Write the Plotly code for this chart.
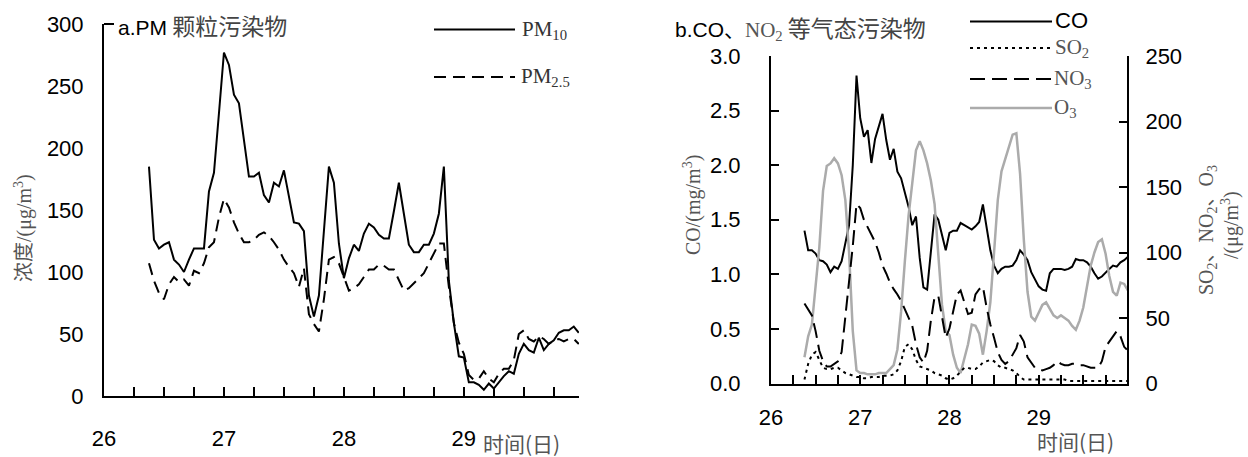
import numpy as np
import plotly.graph_objects as go

W, H = 1248, 457
def px(x): return x / W
def py(y): return 1 - y / H

# ---- data (hourly, starting 26 day 09:00) ----
start_day = 26.375
pm10 = [185, 126, 119, 122, 124, 110, 106, 100, 110, 119, 119, 119, 165, 180, 228, 277, 267, 243, 236, 206,
        177, 177, 180, 162, 156, 172, 169, 182, 161, 140, 139, 133, 81, 64, 81, 131, 185, 172, 123, 95,
        111, 122, 117, 131, 139, 136, 130, 127, 127, 149, 172, 147, 122, 116, 116, 122, 122, 131, 147, 185,
        93, 59, 32, 31, 11, 11, 9, 5, 10, 6, 11, 16, 20, 18, 34, 42, 37, 35, 47, 37,
        42, 45, 51, 53, 53, 56, 51]
pm25 = [107, 93, 83, 78, 90, 96, 92, 94, 89, 101, 99, 107, 120, 124, 144, 159, 152, 140, 131, 124,
        124, 126, 130, 132, 129, 124, 118, 110, 104, 99, 88, 103, 66, 58, 52, 78, 110, 112, 107, 96,
        85, 87, 90, 96, 102, 102, 106, 105, 102, 102, 93, 85, 87, 91, 95, 99, 107, 115, 123, 123,
        88, 59, 43, 34, 17, 13, 14, 20, 14, 11, 18, 22, 22, 29, 50, 53, 46, 44, 48, 46,
        42, 45, 46, 44, 46, 46, 42]
co = [1.40, 1.22, 1.22, 1.19, 1.13, 1.12, 1.09, 1.02, 1.07, 1.05, 1.12, 1.30, 1.45, 2.00, 2.82, 2.43,
      2.26, 2.32, 2.02, 2.24, 2.35, 2.47, 2.23, 2.05, 2.15, 1.94, 1.88, 1.74, 1.62, 1.45, 1.53, 1.15,
      0.88, 0.86, 1.20, 1.55, 1.50, 1.37, 1.22, 1.38, 1.40, 1.40, 1.47, 1.45, 1.43, 1.41, 1.44, 1.48,
      1.64, 1.44, 1.22, 1.08, 1.01, 1.05, 1.07, 1.07, 1.08, 1.13, 1.22, 1.18, 1.13, 1.02, 0.95, 0.89,
      0.86, 0.85, 1.01, 1.05, 1.05, 1.05, 1.04, 1.05, 1.07, 1.14, 1.13, 1.13, 1.11, 1.07, 1.01, 0.96,
      0.98, 1.02, 1.05, 1.08, 1.07, 1.11, 1.13, 1.16]
so2 = [3, 15, 22, 24, 18, 12, 11, 11, 12, 12, 10, 8, 7, 6, 5, 5, 4, 4, 5, 5,
       5, 6, 6, 6, 7, 10, 17, 28, 30, 26, 18, 13, 12, 11, 10, 8, 7, 6, 4, 3,
       4, 6, 9, 12, 12, 11, 11, 13, 16, 17, 18, 17, 14, 12, 12, 11, 10, 8, 5, 3,
       3, 3, 3, 3, 3, 3, 3, 3, 3, 3, 3, 2, 2, 2, 2, 2, 2, 2, 2, 2,
       2, 2, 2, 2, 2, 2, 2, 2]
no2 = [61, 56, 52, 40, 25, 17, 13, 13, 15, 17, 24, 50, 80, 105, 137, 134, 125, 119, 114, 108,
       100, 90, 84, 77, 72, 68, 63, 57, 51, 44, 30, 20, 16, 25, 48, 66, 67, 52, 35, 42,
       55, 68, 71, 62, 53, 54, 68, 72, 74, 58, 45, 35, 24, 18, 15, 17, 22, 27, 37, 32,
       20, 16, 12, 11, 10, 11, 12, 14, 17, 15, 14, 14, 15, 15, 14, 14, 13, 12, 12, 12,
       17, 28, 32, 36, 40, 36, 28, 25]
o3 = [20, 36, 45, 72, 104, 147, 166, 168, 172, 168, 159, 140, 100, 40, 10, 8, 8, 7, 7, 7,
      8, 8, 8, 11, 14, 26, 55, 93, 128, 153, 178, 185, 178, 168, 155, 137, 95, 60, 40, 37,
      22, 12, 8, 18, 30, 45, 44, 38, 22, 40, 62, 100, 140, 162, 172, 180, 190, 191, 160, 110,
      70, 51, 48, 54, 60, 62, 57, 52, 50, 52, 50, 48, 44, 41, 48, 58, 74, 90, 100, 108,
      110, 99, 82, 70, 67, 77, 76, 71]

day_ticks = [26, 27, 28, 29]
pm_ticks = [0, 50, 100, 150, 200, 250, 300]
co_ticks = [0, 0.5, 1.0, 1.5, 2.0, 2.5, 3.0]
gas_ticks = [0, 50, 100, 150, 200, 250]

t_pm = start_day + np.arange(len(pm10)) / 24
t_gas = start_day + np.arange(len(co)) / 24

SANS = "Liberation Sans, Arial, sans-serif"
SERIF = "Liberation Serif, Times New Roman, serif"
CJK = "Noto Sans CJK SC"
GRAY = "#555555"
O3C = "#ababab"

fig = go.Figure()
fig.add_trace(go.Scatter(x=t_pm, y=pm10, mode="lines", line=dict(color="black", width=2),
                         xaxis="x", yaxis="y", name="PM10"))
fig.add_trace(go.Scatter(x=t_pm, y=pm25, mode="lines", line=dict(color="black", width=2, dash="12px,7px"),
                         xaxis="x", yaxis="y", name="PM2.5"))
fig.add_trace(go.Scatter(x=t_gas, y=o3, mode="lines", line=dict(color=O3C, width=2.5),
                         xaxis="x2", yaxis="y3", name="O3"))
fig.add_trace(go.Scatter(x=t_gas, y=so2, mode="lines", line=dict(color="black", width=2, dash="3px,4px"),
                         xaxis="x2", yaxis="y3", name="SO2"))
fig.add_trace(go.Scatter(x=t_gas, y=no2, mode="lines", line=dict(color="black", width=2, dash="15px,7px"),
                         xaxis="x2", yaxis="y3", name="NO2"))
fig.add_trace(go.Scatter(x=t_gas, y=co, mode="lines", line=dict(color="black", width=2),
                         xaxis="x2", yaxis="y2", name="CO"))

tickfont = dict(family=SANS, size=22, color="black")
xcommon = dict(showline=True, linecolor="black", linewidth=2, ticks="inside", ticklen=9, tickwidth=1.5,
               tickcolor="black", tickmode="array", tickvals=day_ticks, automargin=False,
               minor=dict(dtick=0.25, tick0=26, ticks="inside", ticklen=9, tickwidth=1.5, tickcolor="black"),
               showgrid=False, zeroline=False, tickfont=tickfont)

fig.update_layout(
    width=W, height=H, margin=dict(l=0, r=0, t=0, b=0, autoexpand=False),
    paper_bgcolor="white", plot_bgcolor="white", showlegend=False,
    xaxis=dict(domain=[px(104), px(579)], range=[26, 29.96], anchor="y", ticklabelstandoff=22, **xcommon),
    yaxis=dict(domain=[py(396), py(24)], range=[0, 300], anchor="x", showline=True, linecolor="black",
               linewidth=2, ticks="", tickmode="array", tickvals=pm_ticks, showgrid=False, zeroline=False,
               tickfont=tickfont, ticklabelstandoff=14, automargin=False),
    xaxis2=dict(domain=[px(771), px(1127)], range=[26, 29.99], anchor="y2", ticklabelstandoff=13, **xcommon),
    yaxis2=dict(domain=[py(383.5), py(56)], range=[0, 3], anchor="x2", showline=True, linecolor="black",
                linewidth=2, ticks="inside", ticklen=8, tickwidth=1.5, tickcolor="black",
                tickmode="array", tickvals=co_ticks, tickformat=".1f", showgrid=False, zeroline=False,
                tickfont=tickfont, ticklabelstandoff=24, automargin=False),
    yaxis3=dict(overlaying="y2", side="right", range=[0, 250], anchor="x2", showline=True,
                linecolor="black", linewidth=2, ticks="inside", ticklen=8, tickwidth=1.5, tickcolor="black",
                tickmode="array", tickvals=gas_ticks, showgrid=False, zeroline=False,
                tickfont=tickfont, ticklabelstandoff=12, automargin=False),
)

ann = []
def A(x, y, text, size=20, family=SERIF, color=GRAY, xanchor="left", angle=0):
    ann.append(dict(x=px(x), y=py(y), xref="paper", yref="paper", text=text, showarrow=False,
                    xanchor=xanchor, yanchor="middle", textangle=angle,
                    font=dict(family=family, size=size, color=color)))

A(116, 25, f'<span style="font-family:{SANS};color:#000">a.PM</span>'
           f'<span style="font-family:{CJK};font-size:23px;color:#444"> 颗粒污染物</span>', size=21)
A(673, 27, f'<span style="font-family:{SANS};color:#000">b.CO</span>'
           f'<span style="font-family:{CJK};color:#000">、</span>'
           f'<span style="font-family:{SERIF};color:{GRAY}">NO<sub>2</sub></span>'
           f'<span style="font-family:{CJK};font-size:23px;color:#444"> 等气态污染物</span>', size=21)

# legend labels
A(520, 30, "PM<sub>10</sub>", size=21, color="#333")
A(519, 77, "PM<sub>2.5</sub>", size=21, color="#333")
A(1053, 21, "CO", size=22, family=SANS, color="black")
A(1053, 48, "SO<sub>2</sub>", size=21)
A(1052, 79, "NO<sub>3</sub>", size=21)
A(1052, 108, "O<sub>3</sub>", size=21)

# axis titles
A(22, 228, f'<span style="font-family:{CJK}">浓度</span>/(μg/m<sup>3</sup>)', size=20, xanchor="center", angle=-90)
A(692, 205, "CO/(mg/m<sup>3</sup>)", size=20, xanchor="center", angle=-90)
A(1205, 230, f'SO<sub>2</sub><span style="font-family:{CJK}">、</span>NO<sub>2</sub>'
             f'<span style="font-family:{CJK}">、</span>O<sub>3</sub>', size=20, xanchor="center", angle=-90)
A(1230, 225, "/(μg/m<sup>3</sup>)", size=20, xanchor="center", angle=-90)
A(481, 443, "时间(日)", size=21, family=CJK)
A(1035, 441, "时间(日)", size=21, family=CJK)

shapes = []
def L(x0, y0, x1, y1, color="black", width=2, dash="solid"):
    shapes.append(dict(type="line", xref="paper", yref="paper", x0=px(x0), y0=py(y0), x1=px(x1), y1=py(y1),
                       line=dict(color=color, width=width, dash=dash)))

L(434, 29.5, 515, 29.5)
L(434, 77, 515, 77, dash="12px,7px")
L(970, 21.5, 1052, 21.5)
L(970, 48, 1052, 48, dash="3px,4px")
L(970, 79, 1052, 79, dash="15px,7px")
L(970, 108, 1052, 108, color=O3C, width=2.5)
L(104, 24, 114, 24)  # top tick of left panel

fig.update_layout(annotations=ann, shapes=shapes)
fig.write_html("out.html")
